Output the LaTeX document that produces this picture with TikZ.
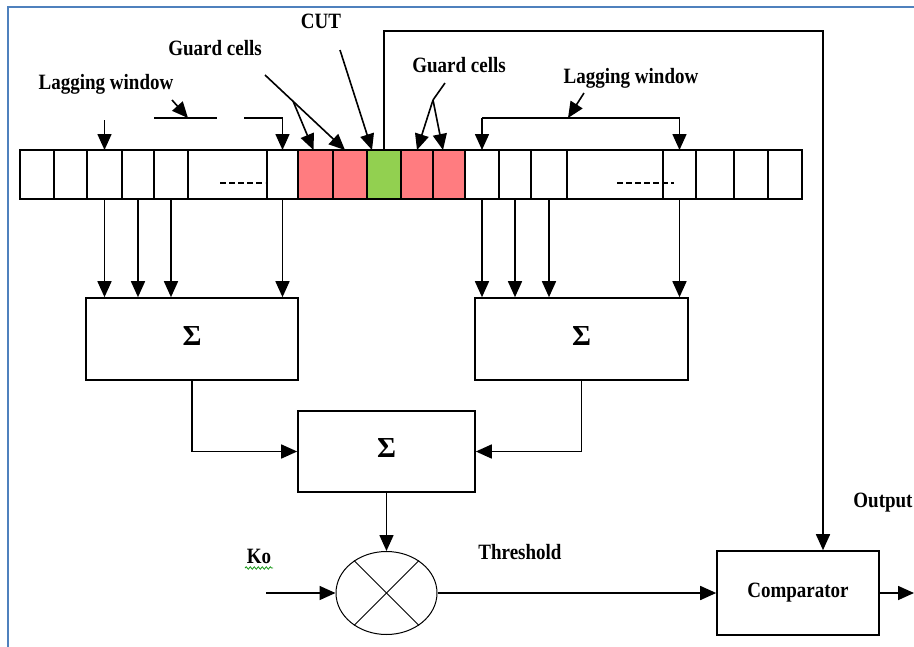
\documentclass[tikz,border=0pt]{standalone}
\usepackage{fontspec}
\setmainfont{Liberation Serif}
\usetikzlibrary{
    arrows.meta,
    positioning,
    shapes.geometric,
    calc,
    decorations.pathmorphing
}
\definecolor{frameblue}{RGB}{79,129,189}
\definecolor{guardred}{RGB}{255,124,128}
\definecolor{cutgreen}{RGB}{146,208,80}
\definecolor{spellgreen}{RGB}{20,150,20}
\newcommand{\tall}[1]{\scalebox{1}[1.15]{#1}}

\begin{document}
\begin{tikzpicture}[
    x=1pt, y=-1pt,
    cell/.style={
        rectangle, draw, line width=1.6pt,
        minimum height=49pt, inner sep=0pt, outer sep=0pt
    },
    sumbox/.style={
        rectangle, draw, line width=1.6pt, inner sep=0pt,
        font=\fontsize{29}{30}\selectfont\bfseries
    },
    lbl/.style={font=\fontsize{19}{21}\selectfont\bfseries, inner sep=0pt, anchor=base},
    arrow/.style={-{Triangle[length=16pt, width=14pt]}, line width=1.6pt},
    wire/.style={line width=1.6pt}
]
\useasboundingbox (0,0) rectangle (914,646);

% Frame
\draw[frameblue, line width=2.4pt] (8,660) -- (8,7) -- (930,7);

% Reference cells (guard cells red, CUT green)
\foreach \a/\b/\col [count=\i] in {20/54/white, 54/87/white, 87/122/white, 122/154/white,
    154/188/white, 188/267/white, 267/298/white, 298/333/guardred, 333/367/guardred,
    367/401/cutgreen, 401/433/guardred, 433/465/guardred, 465/499/white, 499/531/white,
    531/567/white, 567/663/white, 663/696/white, 696/734/white, 734/768/white, 768/802/white}
    \node[cell, fill=\col, minimum width={(\b-\a)*1pt}] (c\i) at ({(\a+\b)/2}, 174.5) {};

\draw[wire, dash pattern=on 6pt off 3pt] (220,183) -- (265,183);
\draw[wire, dash pattern=on 6pt off 3pt] (617,183) -- (674,183);

% Labels
\node[lbl] (lagl) at (106,89) {\tall{Lagging window}};
\node[lbl] (guardl) at (215,55) {\tall{Guard cells}};
\node[lbl] (cut) at (321,28) {\tall{CUT}};
\node[lbl] (guardr) at (459,72) {\tall{Guard cells}};
\node[lbl] (lagr) at (631,83) {\tall{Lagging window}};
\node[lbl] (thr) at (520,559) {\tall{Threshold}};
\node[lbl] (ko) at (259,563) {\tall{Ko}};
\node[lbl] (out) at (883,507) {\tall{Output}};

% Left lagging window
\coordinate (lagla) at (154,118);
\coordinate (laglb) at (217,118);
\coordinate (laglc) at (244,118);
\coordinate (lagl0) at (172,100);
\coordinate (lagl1) at (188,118);
\draw[arrow] ($(c3.north)+(0,-30)$) -- (c3.north);
\draw[wire] (lagla) -- (laglb);
\draw[arrow] (laglc) -| (c7.north);
\draw[arrow] (lagl0) -- (lagl1);

% Guard cells and CUT pointers
\coordinate (gl0) at (265,75);
\coordinate (gl1) at (293,101);
\draw[arrow] (gl0) -- ($(c9.north)+(-5,0)$);
\draw[arrow] (gl1) -- ($(c8.north)+(-2,0)$);
\coordinate (cut0) at (340,50);
\draw[arrow] (cut0) -- ($(c10.north)+(-12,0)$);
\coordinate (gr0) at (445,83);
\coordinate (gr1) at (433,100);
\draw[wire] (gr0) -- (gr1);
\draw[arrow] (gr1) -- (c11.north);
\draw[arrow] (gr1) -- ($(c12.north)+(-6,0)$);

% Right lagging window
\coordinate (lagrb) at ($(c13.north)+(0,-32)$);
\coordinate (lagr0) at (584,93);
\coordinate (lagr1) at (568,118);
\draw[arrow] (lagrb) -- (c13.north);
\draw[arrow] (lagrb) -| (c17.north);
\draw[arrow] (lagr0) -- (lagr1);

% Summing blocks
\node[sumbox, minimum width=212pt, minimum height=82pt] (lsum) at (192,339) {\raisebox{7pt}{Σ}};
\node[sumbox, minimum width=213pt, minimum height=82pt] (rsum) at (581.5,339) {\raisebox{7pt}{Σ}};
\node[sumbox, minimum width=177pt, minimum height=81pt] (msum) at (386.5,451.5) {\raisebox{8pt}{Σ}};

\foreach \c in {3,4,5,7}
    \draw[arrow] (c\c.south) -- (c\c.south |- lsum.north);
\foreach \c in {13,14,15,17}
    \draw[arrow] (c\c.south) -- (c\c.south |- rsum.north);

\draw[arrow] (lsum.south) |- (msum.west);
\draw[arrow] (rsum.south) |- (msum.east);

% Multiplier
\node[ellipse, draw, line width=1pt, minimum width=101pt, minimum height=83pt, inner sep=0pt] (mult) at (386.5,593) {};
\draw[line width=1pt] (mult.135) -- (mult.-45);
\draw[line width=1pt] (mult.45) -- (mult.-135);
\draw[arrow] (msum.south) -- (mult.north);

\coordinate (koin) at (266,593);
\draw[arrow] (koin) -- (mult.west);
\draw[spellgreen, line width=0.8pt, decorate, decoration={snake, amplitude=1.2pt, segment length=4pt}] (245,568) -- (273,568);

% Comparator
\node[rectangle, draw, line width=1.6pt, minimum width=162pt, minimum height=84pt,
    font=\fontsize{19}{21}\selectfont\bfseries] (comp) at (798,593) {\tall{Comparator}};
\draw[arrow] (mult.east) -- (comp.west);
\coordinate (outend) at (914,593);
\draw[arrow] (comp.east) -- (outend);

% CUT feedback
\coordinate (fbk) at (823,31);
\draw[arrow] (c10.north) |- (fbk) -- (fbk |- comp.north);

\end{tikzpicture}
\end{document}
